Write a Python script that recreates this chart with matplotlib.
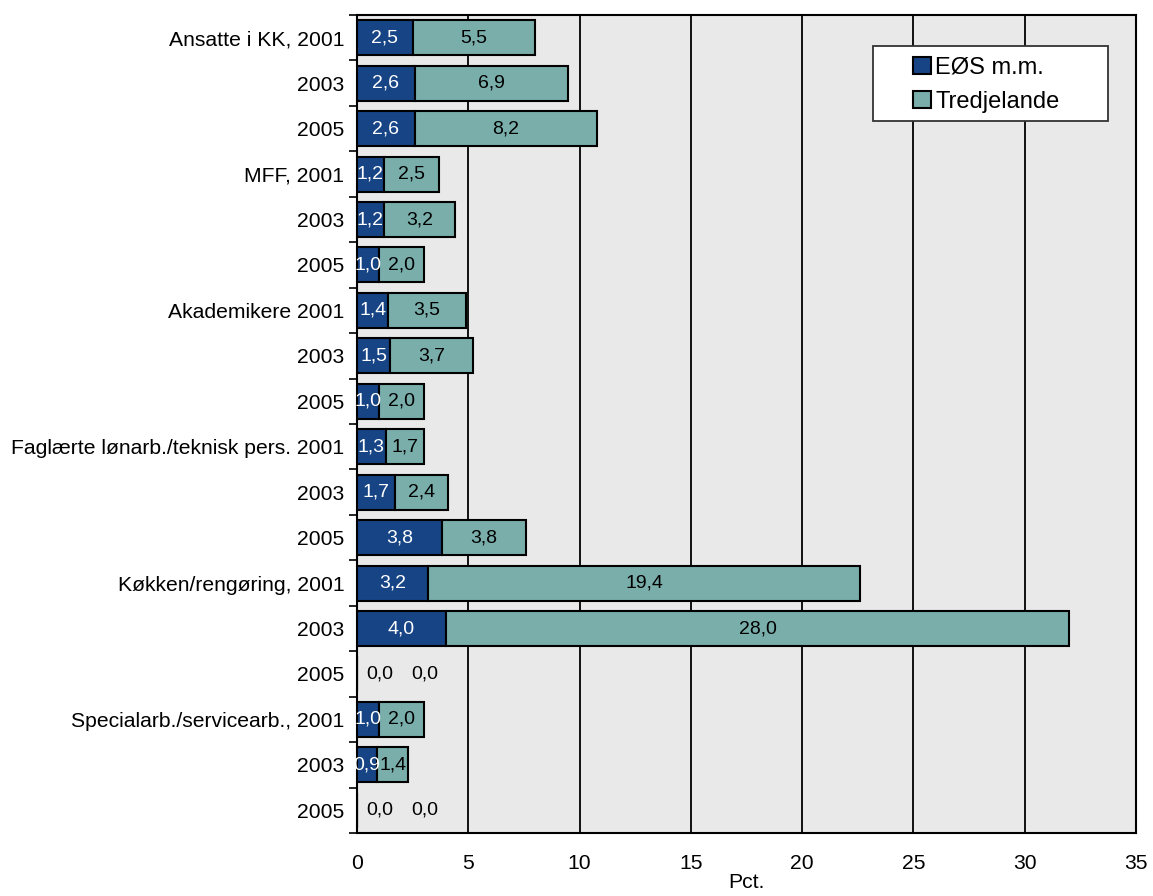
import matplotlib
matplotlib.use("Agg")
import matplotlib.pyplot as plt
from matplotlib.patches import Rectangle
import numpy as np

plt.rcParams['font.family'] = ['Liberation Sans', 'DejaVu Sans']

categories = ["Ansatte i KK, 2001", "2003", "2005",
              "MFF, 2001", "2003", "2005",
              "Akademikere 2001", "2003", "2005",
              "Faglærte lønarb./teknisk pers. 2001", "2003", "2005",
              "Køkken/rengøring, 2001", "2003", "2005",
              "Specialarb./servicearb., 2001", "2003", "2005"]
eos = [2.5, 2.6, 2.6, 1.2, 1.2, 1.0, 1.4, 1.5, 1.0, 1.3, 1.7, 3.8, 3.2, 4.0, 0.0, 1.0, 0.9, 0.0]
tredje = [5.5, 6.9, 8.2, 2.5, 3.2, 2.0, 3.5, 3.7, 2.0, 1.7, 2.4, 3.8, 19.4, 28.0, 0.0, 2.0, 1.4, 0.0]
series_names = ["EØS m.m.", "Tredjelande"]
xticks = [0, 5, 10, 15, 20, 25, 30, 35]

c_blue = "#174485"
c_teal = "#79aeab"

W, H = 1153, 896
fig = plt.figure(figsize=(W/100, H/100), dpi=100)
ax = fig.add_axes([357/W, 1-833/H, (1136-357)/W, (833-15)/H])
ax.set_facecolor("#e9e9e9")

n = len(categories)
y = np.arange(n)
h = 0.77
ax.barh(y, eos, height=h, color=c_blue, edgecolor="black", linewidth=1.5, label=series_names[0], zorder=3)
ax.barh(y, tredje, left=eos, height=h, color=c_teal, edgecolor="black", linewidth=1.5, label=series_names[1], zorder=3)

def fmt(v):
    return f"{v:.1f}".replace(".", ",")

fs_bar = 14
for i in range(n):
    e, t = eos[i], tredje[i]
    if e == 0 and t == 0:
        ax.annotate(fmt(e), (0, i), xytext=(16.5, 0), textcoords="offset points",
                    ha="center", va="center", fontsize=fs_bar, color="black", zorder=4)
        ax.annotate(fmt(t), (0, i), xytext=(49, 0), textcoords="offset points",
                    ha="center", va="center", fontsize=fs_bar, color="black", zorder=4)
    else:
        ax.text(e/2, i, fmt(e), ha="center", va="center", fontsize=fs_bar, color="white", zorder=4)
        ax.text(e + t/2, i, fmt(t), ha="center", va="center", fontsize=fs_bar, color="black", zorder=4)

ax.set_xlim(0, 35)
ax.set_ylim(n - 0.5, -0.5)
ax.set_xticks(xticks)
ax.set_xticklabels([str(v) for v in xticks])
ax.set_yticks(y)
ax.set_yticklabels(categories)
ax.set_yticks(np.arange(-0.5, n, 1), minor=True)
ax.tick_params(axis="y", which="major", length=0, pad=9, labelsize=15.2)
ax.tick_params(axis="y", which="minor", length=6, width=1.2, direction="out")
ax.tick_params(axis="x", which="major", length=0, pad=15, labelsize=15.2)
ax.xaxis.grid(True, color="black", linewidth=1.3, zorder=1)
ax.set_axisbelow(True)
for s in ax.spines.values():
    s.set_linewidth(1.5)
    s.set_color("black")
ax.set_xlabel("Pct.", fontsize=15.2, labelpad=0)

# legend box
fig.patches.append(Rectangle((873/W, 1-121/H), (1108-873)/W, (121-46)/H,
                             transform=fig.transFigure, facecolor="white",
                             edgecolor="#333333", linewidth=1.3, zorder=5))
leg = fig.legend(loc="upper left", bbox_to_anchor=(913/W, 1-57/H),
                 fontsize=17, frameon=False,
                 handlelength=0.75, handleheight=0.75, handletextpad=0.2, borderpad=0,
                 labelspacing=0.5, borderaxespad=0)
leg.set_zorder(6)

fig.savefig("out.png", dpi=100)
